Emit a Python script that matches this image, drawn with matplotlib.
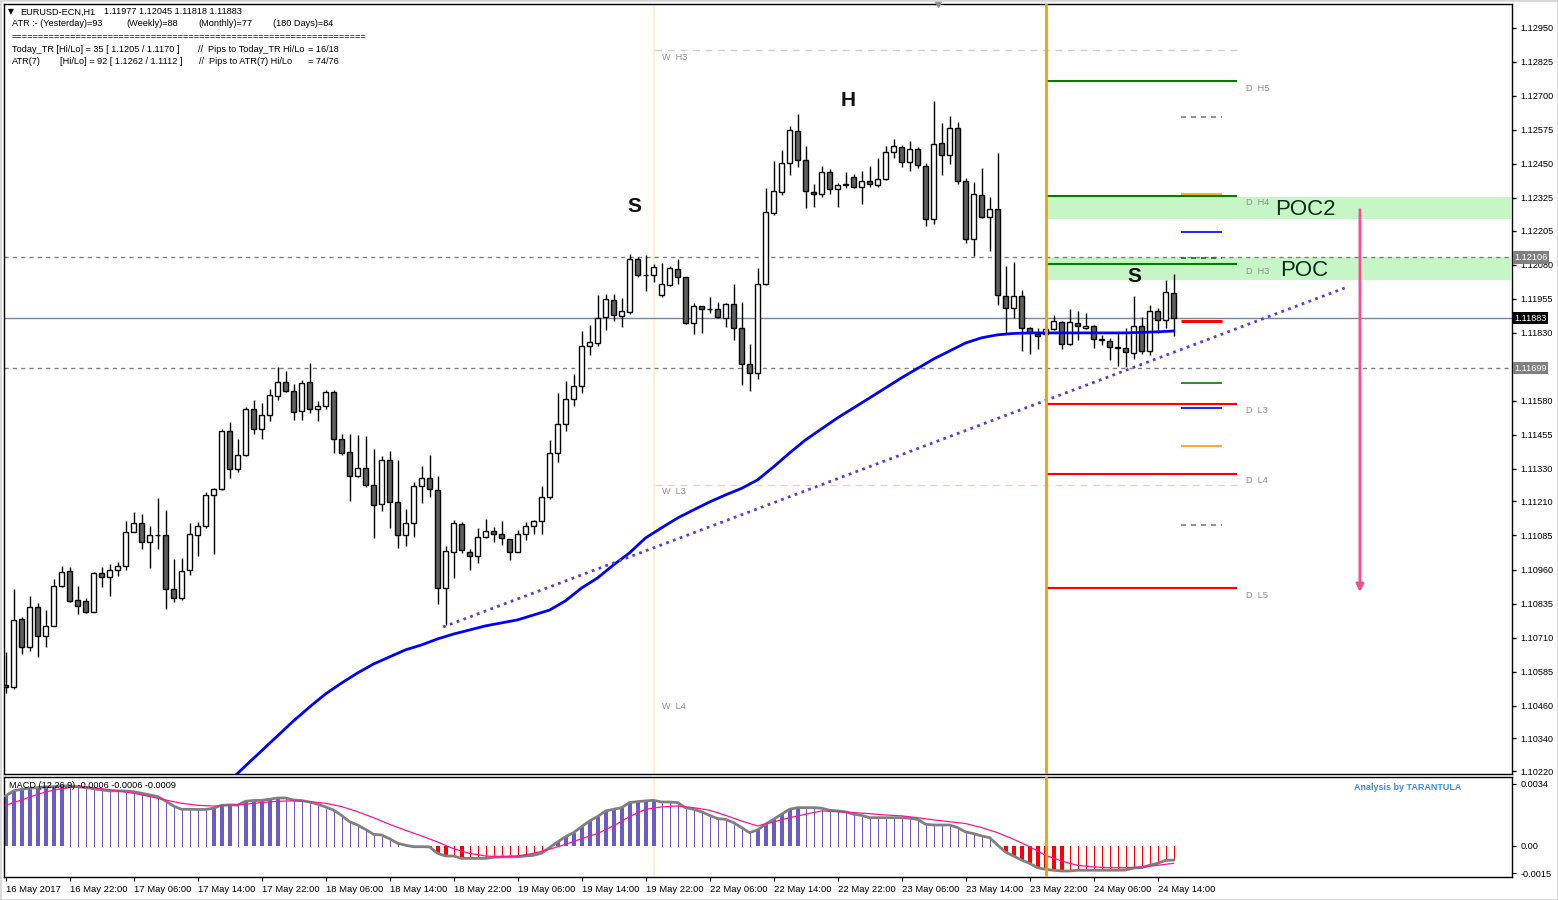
#!/usr/bin/env python3
"""EURUSD H1 candlestick chart (MT4 style) with pivots, POC zones and a MACD panel.

Writes out.png (1558x900).
"""
import matplotlib
matplotlib.use("Agg")
import matplotlib.pyplot as plt
from matplotlib.patches import Rectangle
from matplotlib.transforms import blended_transform_factory

# ---------------------------------------------------------------- candles (H1)
opens = [1.10536, 1.10528, 1.10777, 1.10674, 1.10822, 1.10715, 1.10752, 1.10901, 1.10954, 1.10847,
         1.10843, 1.10805, 1.10946, 1.10932, 1.10957, 1.10972, 1.11097, 1.11130, 1.11060, 1.11086,
         1.11086, 1.10887, 1.10854, 1.10957, 1.11086, 1.11119, 1.11233, 1.11255, 1.11468, 1.11328,
         1.11380, 1.11549, 1.11475, 1.11527, 1.11596, 1.11648, 1.11615, 1.11541, 1.11648, 1.11549,
         1.11560, 1.11611, 1.11438, 1.11391, 1.11303, 1.11332, 1.11270, 1.11200, 1.11361, 1.11207,
         1.11086, 1.11130, 1.11266, 1.11295, 1.11251, 1.10891, 1.11023, 1.11126, 1.11023, 1.11009,
         1.11079, 1.11101, 1.11090, 1.11071, 1.11023, 1.11090, 1.11119, 1.11137, 1.11225, 1.11387,
         1.11494, 1.11585, 1.11633, 1.11780, 1.11791, 1.11887, 1.11949, 1.11890, 1.11905, 1.12100,
         1.12041, 1.12041, 1.11967, 1.12004, 1.12063, 1.12034, 1.11865, 1.11927, 1.11916, 1.11916,
         1.11883, 1.11934, 1.11846, 1.11714, 1.11681, 1.12008, 1.12269, 1.12346, 1.12452, 1.12570,
         1.12463, 1.12346, 1.12338, 1.12419, 1.12357, 1.12375, 1.12401, 1.12364, 1.12386, 1.12371,
         1.12393, 1.12493, 1.12511, 1.12456, 1.12504, 1.12441, 1.12246, 1.12526, 1.12482, 1.12581,
         1.12386, 1.12173, 1.12335, 1.12254, 1.12283, 1.11964, 1.11920, 1.11964, 1.11846, 1.11824,
         1.11824, 1.11842, 1.11868, 1.11787, 1.11865, 1.11846, 1.11854, 1.11806, 1.11798, 1.11776,
         1.11773, 1.11754, 1.11854, 1.11762, 1.11909, 1.11876, 1.11977]
highs = [1.10658, 1.10889, 1.10785, 1.10863, 1.10837, 1.10811, 1.10925, 1.10973, 1.10968, 1.10899,
         1.10854, 1.10950, 1.10968, 1.10979, 1.10988, 1.11137, 1.11170, 1.11163, 1.11119, 1.11222,
         1.11178, 1.10998, 1.11001, 1.11130, 1.11134, 1.11244, 1.11260, 1.11476, 1.11502, 1.11440,
         1.11557, 1.11583, 1.11572, 1.11622, 1.11703, 1.11688, 1.11640, 1.11655, 1.11718, 1.11578,
         1.11620, 1.11618, 1.11457, 1.11457, 1.11453, 1.11450, 1.11402, 1.11376, 1.11394, 1.11361,
         1.11181, 1.11281, 1.11339, 1.11380, 1.11303, 1.11045, 1.11141, 1.11135, 1.11034, 1.11112,
         1.11145, 1.11115, 1.11137, 1.11071, 1.11104, 1.11134, 1.11141, 1.11266, 1.11435, 1.11607,
         1.11652, 1.11677, 1.11835, 1.11857, 1.11967, 1.11971, 1.11971, 1.11956, 1.12118, 1.12107,
         1.12114, 1.12081, 1.12085, 1.12074, 1.12100, 1.12036, 1.11938, 1.11929, 1.11960, 1.11942,
         1.11938, 1.12009, 1.11942, 1.11787, 1.12066, 1.12360, 1.12460, 1.12500, 1.12588, 1.12632,
         1.12515, 1.12375, 1.12441, 1.12430, 1.12379, 1.12419, 1.12412, 1.12423, 1.12441, 1.12471,
         1.12515, 1.12540, 1.12518, 1.12533, 1.12511, 1.12452, 1.12680, 1.12599, 1.12625, 1.12603,
         1.12397, 1.12382, 1.12434, 1.12327, 1.12489, 1.12074, 1.12089, 1.11986, 1.11850, 1.11846,
         1.11857, 1.11894, 1.11872, 1.11916, 1.11909, 1.11901, 1.11857, 1.11820, 1.11809, 1.11828,
         1.11846, 1.11964, 1.11887, 1.11931, 1.11920, 1.12022, 1.12045]
lows = [1.10505, 1.10520, 1.10649, 1.10662, 1.10640, 1.10677, 1.10752, 1.10897, 1.10842, 1.10798,
        1.10802, 1.10805, 1.10895, 1.10864, 1.10937, 1.10957, 1.11097, 1.11034, 1.10965, 1.11034,
        1.10814, 1.10842, 1.10847, 1.10939, 1.11009, 1.11112, 1.11016, 1.11251, 1.11297, 1.11319,
        1.11376, 1.11457, 1.11438, 1.11505, 1.11582, 1.11611, 1.11508, 1.11508, 1.11534, 1.11505,
        1.11549, 1.11387, 1.11380, 1.11211, 1.11299, 1.11263, 1.11075, 1.11174, 1.11112, 1.11038,
        1.11045, 1.11079, 1.11203, 1.11225, 1.10832, 1.10756, 1.10928, 1.11020, 1.10957, 1.10983,
        1.11075, 1.11060, 1.11049, 1.10994, 1.11023, 1.11067, 1.11090, 1.11090, 1.11218, 1.11354,
        1.11468, 1.11560, 1.11607, 1.11747, 1.11780, 1.11839, 1.11872, 1.11850, 1.11898, 1.12035,
        1.11982, 1.12015, 1.11960, 1.12000, 1.12008, 1.11861, 1.11824, 1.11828, 1.11901, 1.11883,
        1.11850, 1.11802, 1.11637, 1.11615, 1.11659, 1.12004, 1.12261, 1.12335, 1.12408, 1.12438,
        1.12287, 1.12291, 1.12327, 1.12338, 1.12291, 1.12360, 1.12361, 1.12302, 1.12364, 1.12364,
        1.12390, 1.12471, 1.12438, 1.12423, 1.12434, 1.12221, 1.12228, 1.12408, 1.12449, 1.12375,
        1.12158, 1.12111, 1.12250, 1.12129, 1.11931, 1.11824, 1.11883, 1.11762, 1.11751, 1.11769,
        1.11798, 1.11839, 1.11769, 1.11784, 1.11802, 1.11842, 1.11773, 1.11784, 1.11729, 1.11707,
        1.11703, 1.11732, 1.11751, 1.11747, 1.11828, 1.11846, 1.11818]
closes = [1.10529, 1.10774, 1.10674, 1.10822, 1.10715, 1.10753, 1.10899, 1.10950, 1.10846, 1.10825,
          1.10805, 1.10946, 1.10932, 1.10957, 1.10972, 1.11097, 1.11130, 1.11060, 1.11086, 1.11087,
          1.10887, 1.10854, 1.10954, 1.11090, 1.11119, 1.11233, 1.11255, 1.11468, 1.11328, 1.11380,
          1.11549, 1.11475, 1.11527, 1.11600, 1.11648, 1.11615, 1.11538, 1.11644, 1.11549, 1.11560,
          1.11611, 1.11438, 1.11387, 1.11303, 1.11332, 1.11270, 1.11196, 1.11361, 1.11207, 1.11086,
          1.11130, 1.11266, 1.11295, 1.11255, 1.10891, 1.11027, 1.11130, 1.11031, 1.11009, 1.11079,
          1.11101, 1.11090, 1.11075, 1.11023, 1.11090, 1.11119, 1.11137, 1.11225, 1.11387, 1.11494,
          1.11585, 1.11633, 1.11780, 1.11795, 1.11883, 1.11953, 1.11894, 1.11909, 1.12100, 1.12041,
          1.12040, 1.12070, 1.12008, 1.12066, 1.12034, 1.11865, 1.11927, 1.11916, 1.11915, 1.11887,
          1.11934, 1.11846, 1.11714, 1.11681, 1.12008, 1.12272, 1.12349, 1.12452, 1.12573, 1.12463,
          1.12349, 1.12338, 1.12419, 1.12357, 1.12371, 1.12371, 1.12364, 1.12386, 1.12375, 1.12393,
          1.12493, 1.12515, 1.12456, 1.12504, 1.12445, 1.12246, 1.12522, 1.12482, 1.12581, 1.12386,
          1.12173, 1.12338, 1.12254, 1.12283, 1.11967, 1.11920, 1.11964, 1.11846, 1.11828, 1.11817,
          1.11842, 1.11872, 1.11787, 1.11868, 1.11854, 1.11854, 1.11806, 1.11802, 1.11776, 1.11773,
          1.11758, 1.11854, 1.11762, 1.11909, 1.11876, 1.11978, 1.11883]

# moving average (blue), read at every 2nd bar where it bends, every 4th later
ma_idx = [28, 30, 32, 34, 36, 38, 40, 42, 44, 46, 48, 50, 52, 54, 56, 58, 60, 62, 64, 66,
          68, 70, 72, 74, 76, 78, 80, 82, 84, 86, 88, 90, 92, 94, 96, 98, 100, 104, 108, 112,
          116, 120, 122, 124, 126, 128, 132, 136, 140, 144, 146]
ma_val = [1.10183, 1.10239, 1.10294, 1.10349, 1.10404, 1.10455, 1.10503, 1.10543, 1.10580, 1.10613,
          1.10639, 1.10665, 1.10683, 1.10705, 1.10723, 1.10738, 1.10753, 1.10764, 1.10775, 1.10793,
          1.10811, 1.10845, 1.10892, 1.10929, 1.10977, 1.11021, 1.11076, 1.11113, 1.11149, 1.11179,
          1.11208, 1.11234, 1.11258, 1.11289, 1.11337, 1.11388, 1.11436, 1.11517, 1.11590, 1.11664,
          1.11733, 1.11792, 1.11811, 1.11822, 1.11827, 1.11829, 1.11829, 1.11829, 1.11829, 1.11833,
          1.11836]

# MACD main (per bar) and signal (every 2nd bar)
macd_main = [0.00274, 0.00302, 0.00311, 0.00316, 0.00320, 0.00324, 0.00325, 0.00329, 0.00329, 0.00325,
             0.00320, 0.00314, 0.00307, 0.00302, 0.00302, 0.00301, 0.00298, 0.00289, 0.00280, 0.00271,
             0.00247, 0.00219, 0.00201, 0.00201, 0.00200, 0.00200, 0.00207, 0.00223, 0.00225, 0.00224,
             0.00245, 0.00249, 0.00250, 0.00256, 0.00263, 0.00263, 0.00252, 0.00249, 0.00241, 0.00229,
             0.00214, 0.00197, 0.00168, 0.00133, 0.00115, 0.00091, 0.00064, 0.00060, 0.00040, 0.00015,
             0.00004, -0.00004, -0.00004, -0.00005, -0.00040, -0.00055, -0.00055, -0.00068, -0.00068, -0.00068,
             -0.00068, -0.00062, -0.00060, -0.00060, -0.00059, -0.00055, -0.00051, -0.00040, -0.00009, 0.00022,
             0.00051, 0.00073, 0.00106, 0.00137, 0.00161, 0.00192, 0.00201, 0.00210, 0.00238, 0.00243,
             0.00247, 0.00250, 0.00241, 0.00241, 0.00238, 0.00210, 0.00201, 0.00187, 0.00168, 0.00150,
             0.00146, 0.00128, 0.00101, 0.00073, 0.00088, 0.00119, 0.00146, 0.00174, 0.00201, 0.00210,
             0.00210, 0.00210, 0.00207, 0.00196, 0.00192, 0.00187, 0.00174, 0.00168, 0.00155, 0.00155,
             0.00155, 0.00155, 0.00155, 0.00152, 0.00146, 0.00119, 0.00115, 0.00115, 0.00115, 0.00101,
             0.00077, 0.00068, 0.00055, 0.00046, 0.00005, -0.00033, -0.00055, -0.00077, -0.00095, -0.00119,
             -0.00128, -0.00133, -0.00137, -0.00137, -0.00133, -0.00133, -0.00133, -0.00133, -0.00133, -0.00133,
             -0.00132, -0.00121, -0.00119, -0.00106, -0.00095, -0.00079, -0.00077]
signal_idx = list(range(0, 147, 2))
signal_val = [0.00223, 0.00252, 0.00283, 0.00307, 0.00320, 0.00324, 0.00314, 0.00302, 0.00289, 0.00271,
              0.00252, 0.00234, 0.00223, 0.00219, 0.00223, 0.00229, 0.00238, 0.00245, 0.00247, 0.00243,
              0.00234, 0.00216, 0.00188, 0.00155, 0.00119, 0.00086, 0.00055, 0.00022, -0.00015, -0.00040,
              -0.00055, -0.00059, -0.00055, -0.00040, -0.00018, 0.00009, 0.00040, 0.00068, 0.00110, 0.00161,
              0.00201, 0.00214, 0.00219, 0.00210, 0.00196, 0.00168, 0.00137, 0.00110, 0.00132, 0.00155,
              0.00174, 0.00192, 0.00188, 0.00183, 0.00177, 0.00170, 0.00165, 0.00155, 0.00143, 0.00133,
              0.00123, 0.00101, 0.00073, 0.00037, -0.00004, -0.00051, -0.00082, -0.00106, -0.00115, -0.00119,
              -0.00119, -0.00115, -0.00106, -0.00095]

# time axis labels (every 8 bars)
time_tick_idx = list(range(0, 147, 8))
time_tick_labels = ["16 May 2017", "16 May 22:00", "17 May 06:00", "17 May 14:00", "17 May 22:00",
                    "18 May 06:00", "18 May 14:00", "18 May 22:00", "19 May 06:00", "19 May 14:00",
                    "19 May 22:00", "22 May 06:00", "22 May 14:00", "22 May 22:00", "23 May 06:00",
                    "23 May 14:00", "23 May 22:00", "24 May 06:00", "24 May 14:00"]

price_ticks = [1.12950, 1.12825, 1.12700, 1.12575, 1.12450, 1.12325, 1.12205, 1.12080, 1.11955,
               1.11830, 1.11580, 1.11455, 1.11330, 1.11210, 1.11085, 1.10960, 1.10835, 1.10710,
               1.10585, 1.10460, 1.10340, 1.10220]
macd_ticks = [0.0034, 0.0, -0.0015]
macd_tick_labels = ["0.0034", "0.00", "-0.0015"]

# levels
daily_names = ["D  H5", "D  H4", "D  H3", "D  L3", "D  L4", "D  L5"]
daily_levels = [1.12754, 1.12332, 1.12082, 1.11568, 1.11311, 1.10892]
daily_colors = ["#008000", "#008000", "#008000", "#ff0000", "#ff0000", "#ff0000"]
weekly_names = ["W  H3", "W  L3", "W  L4"]
weekly_levels = [1.12868, 1.11271, 1.10481]
weekly_colors = ["#d0d0d0", "#ffc8c8", None]
mark_levels = [1.12622, 1.12339, 1.12200, 1.12105, 1.11873, 1.11645, 1.11553, 1.11414, 1.11124]
mark_colors = ["#808080", "#ff9900", "#0000ff", "#008000", "#ff0000", "#008000", "#0000ff", "#ff9900", "#808080"]
mark_styles = ["--", "-", "-", "--", "-", "-", "-", "-", "--"]
hline_levels = [1.12106, 1.11699]
bid_price = 1.11883
poc_names = ["POC2", "POC"]
poc_low = [1.12248, 1.12024]
poc_high = [1.12328, 1.12106]
poc_text_p = [1.12281, 1.12057]
trend_x = [54.7, 167.4]
trend_p = [1.10749, 1.11994]
arrow_x = 169.3
arrow_p = [1.12292, 1.10867]
pattern_letters = ["S", "H", "S"]
pattern_x = [78.6, 105.3, 141.1]
pattern_p = [1.12293, 1.12681, 1.12035]

DAY_START = 130      # 24 May 00:00
WEEK_MARK = 81
W, H = 1558, 900
PX = 72 / 100        # one pixel in points


def fx(px):
    return px / W


def fy(py):
    return 1 - py / H


def draw_candles(ax):
    for i, (o, h, l, c) in enumerate(zip(opens, highs, lows, closes)):
        ax.vlines(i, l, h, color="black", lw=1, zorder=3)
        face = "white" if c >= o else "#5f5f5f"
        ax.bar(i, abs(c - o), bottom=min(o, c), width=0.62, facecolor=face,
               edgecolor="black", linewidth=1, zorder=4)


def draw_main(ax):
    ax.set_xlim(-0.19, 188.31)
    ax.set_ylim(1.10209, 1.13037)
    ax.axvline(WEEK_MARK, color="#f7f5c8", lw=1.5, zorder=1)
    ax.axvline(DAY_START, color="#f5a000", lw=2, zorder=6)

    for lo, hi, x0 in zip(poc_low, poc_high, [DAY_START, DAY_START + 0.35]):
        ax.add_patch(Rectangle((x0, lo), 188.2 - x0, hi - lo, facecolor="#c6f6c6",
                               edgecolor="none", zorder=1))

    for lvl in hline_levels:
        ax.axhline(lvl, color="#808080", lw=1, ls=(0, (3, 3)), zorder=2)
    ax.axhline(bid_price, color="#778899", lw=1, zorder=2)

    for name, lvl, col in zip(weekly_names, weekly_levels, weekly_colors):
        if col:
            ax.hlines(lvl, 81.2, 153.9, color=col, lw=1, ls=(0, (5, 4)), zorder=2)
        ax.annotate(name, (82.1, lvl), xytext=(0, -7), textcoords="offset pixels",
                    fontsize=6.6, color="#909090", va="center", ha="left")
    for name, lvl, col in zip(daily_names, daily_levels, daily_colors):
        ax.hlines(lvl, DAY_START, 153.9, color=col, lw=1.5, zorder=5)
        ax.annotate(name, (155.1, lvl), xytext=(0, -7), textcoords="offset pixels",
                    fontsize=6.6, color="#909090", va="center", ha="left")
    for lvl, col, st in zip(mark_levels, mark_colors, mark_styles):
        ax.hlines(lvl, 146.9, 152.1, color=col, lw=2.2 if col == "#ff0000" else 1.2,
                  ls=(0, (3, 3)) if st == "--" else "-", zorder=5)

    ax.plot(ma_idx, ma_val, color="#0000ff", lw=2, zorder=5)
    ax.plot(trend_x, trend_p, color="#5a3de0", lw=2, ls=(0, (1, 1.6)), zorder=5)
    draw_candles(ax)

    ax.annotate("", xy=(arrow_x, arrow_p[1]), xytext=(arrow_x, arrow_p[0]),
                arrowprops=dict(arrowstyle="-|>", color="#f0508c", lw=2, mutation_scale=11),
                zorder=7)

    for name, p, x0 in zip(poc_names, poc_text_p, [158.7, 159.3]):
        ax.text(x0, p, name, fontsize=16, color="#0f2d1c", va="center", ha="left", zorder=8)
    for s, xi, p in zip(pattern_letters, pattern_x, pattern_p):
        ax.text(xi, p, s, fontsize=15, fontweight="bold", color="#111111",
                ha="center", va="center", zorder=8)

    # right price axis
    ax.yaxis.tick_right()
    ax.set_yticks(price_ticks)
    ax.set_yticklabels([f"{t:.5f}" for t in price_ticks])
    ax.tick_params(axis="y", direction="out", length=3, width=1, pad=3, labelsize=6.6)
    ax.set_xticks([])
    trans = blended_transform_factory(ax.transAxes, ax.transData)
    for lvl, face in [(hline_levels[0], "#808080"), (bid_price, "black"), (hline_levels[1], "#808080")]:
        ax.text(1.0015, lvl, f"{lvl:.5f}", transform=trans, fontsize=6.6, color="white",
                va="center", ha="left", zorder=10, clip_on=False,
                bbox=dict(boxstyle="square,pad=0.18", facecolor=face, edgecolor="none"))
    ax.plot([116.6], [1.13037], marker="v", color="#909090", ms=5, clip_on=False, zorder=10)
    for sp in ax.spines.values():
        sp.set_color("black")
        sp.set_linewidth(1)


def draw_macd(ax):
    ax.set_xlim(-0.19, 188.31)
    ax.set_ylim(-0.0017, 0.00378)
    ax.axvline(WEEK_MARK, color="#f7f5c8", lw=1.5, zorder=1)
    ax.axvline(DAY_START, color="#f5a000", lw=2, zorder=6)
    prev = 0.0
    for i, v in enumerate(macd_main):
        grow = abs(v) > abs(prev)
        prev = v
        col = "#6a5acd" if v >= 0 else "#ff0000"
        ax.vlines(i, 0, v, colors=col, linewidths=(4 if grow else 1) * PX,
                  antialiased=False, zorder=2)
    ax.plot(range(len(macd_main)), macd_main, color="#808080", lw=2, zorder=3)
    ax.plot(signal_idx, signal_val, color="#ff1493", lw=0.9, zorder=4)

    ax.yaxis.tick_right()
    ax.set_yticks(macd_ticks)
    ax.set_yticklabels(macd_tick_labels)
    ax.tick_params(axis="y", direction="out", length=3, pad=3, labelsize=6.6)
    ax.set_xticks(time_tick_idx)
    ax.set_xticklabels(time_tick_labels)
    ax.tick_params(axis="x", direction="out", length=3, pad=3, labelsize=6.8)
    for lab in ax.get_xticklabels():
        lab.set_ha("left")
    ax.text(0.003, 0.92, "MACD (12,26,9) -0.0006 -0.0006 -0.0009", transform=ax.transAxes,
            fontsize=6.6, va="center", ha="left", zorder=9)
    for sp in ax.spines.values():
        sp.set_color("black")
        sp.set_linewidth(1)


def draw_header(fig):
    kw = dict(fontsize=6.6, va="center", ha="left", color="black")
    fig.text(fx(8), fy(12), "\u25bc", fontsize=5.5, va="center", ha="left",
             family=["DejaVu Sans"])
    fig.text(fx(20), fy(12), "EURUSD-ECN,H1", **kw)
    fig.text(fx(104), fy(12), "1.11977 1.12045 1.11818 1.11883", **kw)
    fig.text(fx(12), fy(24), "ATR :- (Yesterday)=93", **kw)
    fig.text(fx(126), fy(24), "(Weekly)=88", **kw)
    fig.text(fx(198), fy(24), "(Monthly)=77", **kw)
    fig.text(fx(273), fy(24), "(180 Days)=84", **kw)
    fig.text(fx(12), fy(37), "=" * 66, **kw)
    fig.text(fx(12), fy(49), "Today_TR [Hi/Lo] = 35 [ 1.1205 / 1.1170 ]", **kw)
    fig.text(fx(198), fy(49), "//  Pips to Today_TR Hi/Lo", **kw)
    fig.text(fx(308), fy(49), "= 16/18", **kw)
    fig.text(fx(12), fy(61), "ATR(7)", **kw)
    fig.text(fx(60), fy(61), "[Hi/Lo] = 92 [ 1.1262 / 1.1112 ]", **kw)
    fig.text(fx(199), fy(61), "//  Pips to ATR(7) Hi/Lo", **kw)
    fig.text(fx(308), fy(61), "= 74/76", **kw)
    fig.text(fx(1354), fy(788), "Analysis by TARANTULA", fontsize=6.5, fontweight="bold",
             color="#3d8ee6", va="center", ha="left")


def main():
    plt.rcParams.update({
        "font.family": ["Liberation Sans", "DejaVu Sans"],
        "axes.unicode_minus": False,
    })
    fig = plt.figure(figsize=(W / 100, H / 100), dpi=100)
    ax = fig.add_axes([fx(4), fy(774), fx(1508), 770 / H])
    ax_m = fig.add_axes([fx(4), fy(877), fx(1508), 100 / H])
    draw_main(ax)
    draw_macd(ax_m)
    draw_header(fig)
    fig.add_artist(Rectangle((0, 0), 1, 1, transform=fig.transFigure, fill=False,
                             edgecolor="#d8d8d8", lw=2))
    fig.savefig("out.png", dpi=100)
    plt.close(fig)


if __name__ == "__main__":
    main()
